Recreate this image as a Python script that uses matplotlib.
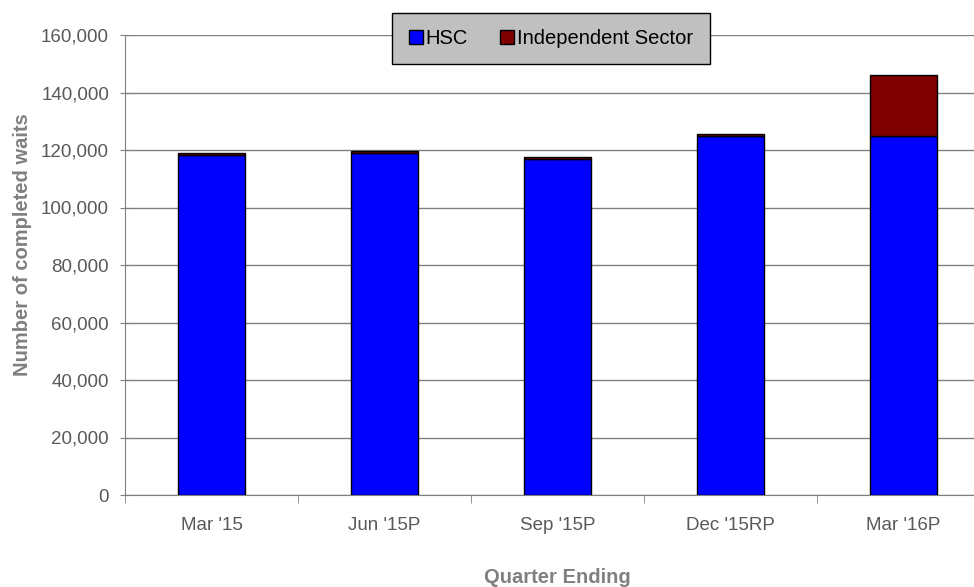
import matplotlib.pyplot as plt
import numpy as np

plt.rcParams['font.family'] = ['Liberation Sans', 'DejaVu Sans']

quarters = ["Mar '15", "Jun '15P", "Sep '15P", "Dec '15RP", "Mar '16P"]
hsc = [118300, 118900, 116900, 124700, 124800]
independent = [600, 700, 600, 800, 21400]

grey = '#808080'
text_grey = '#595959'

fig = plt.figure(figsize=(9.74, 5.87), dpi=100)
ax = fig.add_axes([125 / 974, 92 / 587, 865 / 974, 460 / 587])

x = np.arange(len(quarters))
ax.bar(x, hsc, width=0.39, color='#0000ff', edgecolor='black', linewidth=1, label='HSC', zorder=3)
ax.bar(x, independent, width=0.39, bottom=hsc, color='#800000', edgecolor='black', linewidth=1,
       label='Independent Sector', zorder=3)

ax.set_xlim(-0.5, len(quarters) - 0.5)
ax.set_ylim(0, 160000)
ax.set_yticks(np.arange(0, 160001, 20000))
ax.yaxis.set_major_formatter(plt.FuncFormatter(lambda v, p: f'{int(v):,}'))
ax.set_xticks(x)
ax.set_xticklabels(quarters)
ax.set_xticks(np.arange(-0.5, len(quarters), 1), minor=True)
ax.tick_params(axis='x', which='major', length=0, pad=16, labelsize=13.5, labelcolor=text_grey)
ax.tick_params(axis='x', which='minor', length=6, color=grey, direction='out')
ax.tick_params(axis='y', length=7, color=grey, direction='inout', labelsize=13.5, labelcolor=text_grey, pad=8)
ax.grid(axis='y', color=grey, linewidth=1, zorder=0)

for s in ['top', 'right']:
    ax.spines[s].set_visible(False)
ax.spines['left'].set_color(grey)
ax.spines['bottom'].set_color(grey)

ax.set_ylabel('Number of completed waits', fontsize=14.5, fontweight='bold', color=grey)
ax.yaxis.set_label_coords(-0.108, 0.545)
ax.set_xlabel('Quarter Ending', fontsize=14.5, fontweight='bold', color=grey, labelpad=24)

leg = ax.legend(loc='upper center', bbox_to_anchor=(551 / 974, 574 / 587), bbox_transform=fig.transFigure,
                ncol=2, frameon=True, fancybox=False, fontsize=14.5, handlelength=0.7, handleheight=0.7,
                handletextpad=0.15, columnspacing=1.6, borderpad=0.8, borderaxespad=0)
leg.get_frame().set_facecolor('#c0c0c0')
leg.get_frame().set_edgecolor('black')
leg.get_frame().set_alpha(1)
leg.set_zorder(5)

fig.savefig('out.png', dpi=100)
